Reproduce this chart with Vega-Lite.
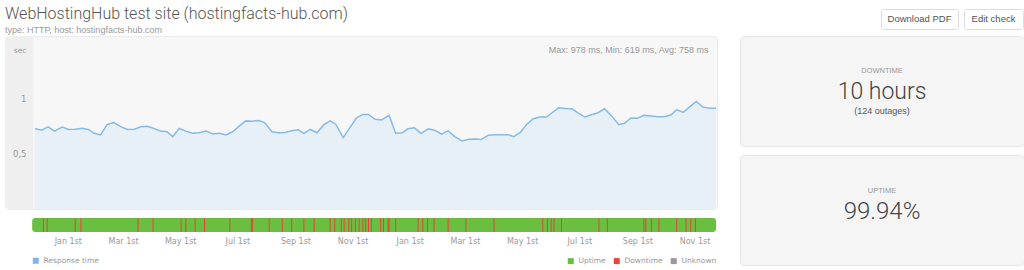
{
  "$schema": "https://vega.github.io/schema/vega-lite/v6.json",
  "background": "white",
  "padding": {"left": 4, "top": 3, "right": 0, "bottom": 0},
  "autosize": {"type": "pad"},
  "config": {"view": {"stroke": null}, "font": "Liberation Sans"},
  "datasets": {
    "response": [
      {"date":"2016-11-27","value":0.732},{"date":"2016-12-04","value":0.717},{"date":"2016-12-11","value":0.747},{"date":"2016-12-18","value":0.708},{"date":"2016-12-26","value":0.744},{"date":"2017-01-02","value":0.723},{"date":"2017-01-09","value":0.726},{"date":"2017-01-16","value":0.735},{"date":"2017-01-23","value":0.723},{"date":"2017-01-29","value":0.688},{"date":"2017-02-05","value":0.673},{"date":"2017-02-12","value":0.768},{"date":"2017-02-19","value":0.786},{"date":"2017-02-27","value":0.747},{"date":"2017-03-06","value":0.723},{"date":"2017-03-13","value":0.726},{"date":"2017-03-20","value":0.747},{"date":"2017-03-27","value":0.753},{"date":"2017-04-03","value":0.732},{"date":"2017-04-10","value":0.708},{"date":"2017-04-17","value":0.702},{"date":"2017-04-23","value":0.658},{"date":"2017-04-30","value":0.732},{"date":"2017-05-07","value":0.708},{"date":"2017-05-14","value":0.688},{"date":"2017-05-21","value":0.693},{"date":"2017-05-29","value":0.708},{"date":"2017-06-05","value":0.681},{"date":"2017-06-12","value":0.688},{"date":"2017-06-19","value":0.673},{"date":"2017-06-26","value":0.702},{"date":"2017-07-03","value":0.753},{"date":"2017-07-10","value":0.801},{"date":"2017-07-17","value":0.798},{"date":"2017-07-24","value":0.804},{"date":"2017-07-30","value":0.786},{"date":"2017-08-07","value":0.702},{"date":"2017-08-14","value":0.693},{"date":"2017-08-21","value":0.696},{"date":"2017-08-28","value":0.711},{"date":"2017-09-04","value":0.720},{"date":"2017-09-10","value":0.688},{"date":"2017-09-17","value":0.723},{"date":"2017-09-24","value":0.693},{"date":"2017-10-01","value":0.762},{"date":"2017-10-08","value":0.801},{"date":"2017-10-14","value":0.771},{"date":"2017-10-22","value":0.649},{"date":"2017-10-29","value":0.738},{"date":"2017-11-05","value":0.827},{"date":"2017-11-12","value":0.860},{"date":"2017-11-18","value":0.860},{"date":"2017-11-25","value":0.815},{"date":"2017-12-02","value":0.810},{"date":"2017-12-10","value":0.851},{"date":"2017-12-17","value":0.688},{"date":"2017-12-24","value":0.693},{"date":"2017-12-30","value":0.729},{"date":"2018-01-06","value":0.738},{"date":"2018-01-13","value":0.688},{"date":"2018-01-21","value":0.729},{"date":"2018-01-28","value":0.714},{"date":"2018-02-04","value":0.681},{"date":"2018-02-11","value":0.711},{"date":"2018-02-18","value":0.658},{"date":"2018-02-26","value":0.619},{"date":"2018-03-05","value":0.634},{"date":"2018-03-12","value":0.637},{"date":"2018-03-18","value":0.631},{"date":"2018-03-26","value":0.670},{"date":"2018-04-02","value":0.676},{"date":"2018-04-09","value":0.676},{"date":"2018-04-16","value":0.676},{"date":"2018-04-22","value":0.658},{"date":"2018-04-29","value":0.696},{"date":"2018-05-06","value":0.771},{"date":"2018-05-13","value":0.821},{"date":"2018-05-20","value":0.836},{"date":"2018-05-27","value":0.836},{"date":"2018-06-02","value":0.875},{"date":"2018-06-09","value":0.920},{"date":"2018-06-16","value":0.914},{"date":"2018-06-23","value":0.911},{"date":"2018-06-30","value":0.872},{"date":"2018-07-07","value":0.836},{"date":"2018-07-14","value":0.857},{"date":"2018-07-21","value":0.875},{"date":"2018-07-28","value":0.911},{"date":"2018-08-05","value":0.842},{"date":"2018-08-12","value":0.768},{"date":"2018-08-18","value":0.777},{"date":"2018-08-25","value":0.827},{"date":"2018-09-01","value":0.824},{"date":"2018-09-08","value":0.851},{"date":"2018-09-16","value":0.845},{"date":"2018-09-23","value":0.839},{"date":"2018-09-30","value":0.839},{"date":"2018-10-07","value":0.857},{"date":"2018-10-13","value":0.904},{"date":"2018-10-20","value":0.878},{"date":"2018-10-27","value":0.931},{"date":"2018-11-03","value":0.978},{"date":"2018-11-10","value":0.926},{"date":"2018-11-18","value":0.917},{"date":"2018-11-24","value":0.917}
    ],
    "downtime": [
      {"date":"2016-12-06","status":"Downtime"},{"date":"2016-12-10","status":"Downtime"},{"date":"2017-01-09","status":"Downtime"},{"date":"2017-01-15","status":"Downtime"},{"date":"2017-03-17","status":"Downtime"},{"date":"2017-04-02","status":"Downtime"},{"date":"2017-05-02","status":"Downtime"},{"date":"2017-05-07","status":"Downtime"},{"date":"2017-05-17","status":"Downtime"},{"date":"2017-05-27","status":"Downtime"},{"date":"2017-06-23","status":"Downtime"},{"date":"2017-07-16","status":"Downtime"},{"date":"2017-07-17","status":"Downtime"},{"date":"2017-08-04","status":"Downtime"},{"date":"2017-08-18","status":"Downtime"},{"date":"2017-08-28","status":"Downtime"},{"date":"2017-09-10","status":"Downtime"},{"date":"2017-09-21","status":"Downtime"},{"date":"2017-10-08","status":"Downtime"},{"date":"2017-10-13","status":"Downtime"},{"date":"2017-10-20","status":"Downtime"},{"date":"2017-10-23","status":"Downtime"},{"date":"2017-10-28","status":"Downtime"},{"date":"2017-10-31","status":"Downtime"},{"date":"2017-11-04","status":"Downtime"},{"date":"2017-11-08","status":"Downtime"},{"date":"2017-11-12","status":"Downtime"},{"date":"2017-11-15","status":"Downtime"},{"date":"2017-11-18","status":"Downtime"},{"date":"2017-11-21","status":"Downtime"},{"date":"2017-12-01","status":"Downtime"},{"date":"2017-12-04","status":"Downtime"},{"date":"2017-12-09","status":"Downtime"},{"date":"2017-12-10","status":"Downtime"},{"date":"2017-12-17","status":"Downtime"},{"date":"2018-01-10","status":"Downtime"},{"date":"2018-01-15","status":"Downtime"},{"date":"2018-01-20","status":"Downtime"},{"date":"2018-01-27","status":"Downtime"},{"date":"2018-02-11","status":"Downtime"},{"date":"2018-03-02","status":"Downtime"},{"date":"2018-04-01","status":"Downtime"},{"date":"2018-05-23","status":"Downtime"},{"date":"2018-05-28","status":"Downtime"},{"date":"2018-06-01","status":"Downtime"},{"date":"2018-06-04","status":"Downtime"},{"date":"2018-06-12","status":"Downtime"},{"date":"2018-07-22","status":"Downtime"},{"date":"2018-07-31","status":"Downtime"},{"date":"2018-09-08","status":"Downtime"},{"date":"2018-09-10","status":"Downtime"},{"date":"2018-09-16","status":"Downtime"},{"date":"2018-09-24","status":"Downtime"},{"date":"2018-10-13","status":"Downtime"},{"date":"2018-10-23","status":"Downtime"},{"date":"2018-10-28","status":"Downtime"},{"date":"2018-11-02","status":"Downtime"}
    ],
    "uptime": [{"start":"2016-11-24","end":"2018-11-24","status":"Uptime"}],
    "gutter": [{"start":"2016-10-26","end":"2016-11-25"}],
    "stats": [{"label":"Max: 978 ms, Min: 619 ms, Avg: 758 ms"}]
  },
  "spacing": 0,
  "vconcat": [
    {
      "spacing": 4,
      "hconcat": [
        {
          "width": 712, "height": 1,
          "title": {
            "text": "WebHostingHub test site (hostingfacts-hub.com)",
            "subtitle": "type: HTTP, host: hostingfacts-hub.com",
            "orient": "bottom", "anchor": "start", "frame": "group",
            "font": "Roboto", "fontSize": 16, "fontWeight": 300, "color": "#555555",
            "subtitleFont": "Liberation Sans", "subtitleFontSize": 9, "subtitleColor": "#999999",
            "subtitlePadding": 4, "offset": -9
          },
          "data": {"values": [{"label": ""}]},
          "mark": {"type": "text"},
          "encoding": {"text": {"field": "label"}}
        },
        {"width": 155, "height": 20, "data": {"values": [{"label": ""}]}, "mark": {"type": "text"}, "encoding": {"text": {"field": "label"}}},
        {"width": 77, "height": 20, "view": {"fill": "white", "stroke": "#dddddd", "cornerRadius": 2},
          "data": {"values": [{"label": "Download PDF"}]},
          "mark": {"type": "text", "fontSize": 9.5, "color": "#555555", "align": "center", "baseline": "middle"},
          "encoding": {"text": {"field": "label"}}},
        {"width": 59, "height": 20, "view": {"fill": "white", "stroke": "#dddddd", "cornerRadius": 2},
          "data": {"values": [{"label": "Edit check"}]},
          "mark": {"type": "text", "fontSize": 9.5, "color": "#555555", "align": "center", "baseline": "middle"},
          "encoding": {"text": {"field": "label"}}}
      ]
    },
    {
      "spacing": 19,
      "hconcat": [
        {
          "spacing": 7,
          "vconcat": [
            {
              "width": 712, "height": 173,
              "view": {"fill": "#f7f7f7", "stroke": "#ebebeb", "cornerRadius": 4},
              "layer": [
                {
                  "data": {"name": "gutter"},
                  "mark": {"type": "rect", "color": "#efefef", "cornerRadiusTopLeft": 4, "cornerRadiusBottomLeft": 4},
                  "encoding": {
                    "x": {"field": "start", "type": "temporal", "axis": null,
                      "scale": {"type": "utc", "nice": false, "domain": [{"year": 2016, "month": "oct", "date": 26, "utc": true}, {"year": 2018, "month": "nov", "date": 25, "utc": true}]}},
                    "x2": {"field": "end"}
                  }
                },
                {
                  "data": {"name": "response"},
                  "mark": {"type": "area", "color": "#e1ecf7", "line": {"color": "#85bbe8", "strokeWidth": 1.5}},
                  "encoding": {
                    "x": {"field": "date", "type": "temporal", "axis": null,
                      "scale": {"type": "utc", "nice": false, "domain": [{"year": 2016, "month": "oct", "date": 26, "utc": true}, {"year": 2018, "month": "nov", "date": 25, "utc": true}]}},
                    "y": {"field": "value", "type": "quantitative",
                      "scale": {"domain": [0, 1.5727], "nice": false, "zero": true},
                      "axis": {"orient": "left", "offset": -29, "zindex": 1, "values": [0.5, 1],
                        "labelExpr": "replace(format(datum.value, '~g'), '.', ',')",
                        "domain": false, "ticks": false, "grid": false, "labelPadding": 8,
                        "labelFont": "DejaVu Sans", "labelFontSize": 8.5, "labelColor": "#999999",
                        "title": "sec", "titleAngle": 0, "titleAlign": "right", "titleBaseline": "middle",
                        "titleX": -8, "titleY": 14, "titleFont": "DejaVu Sans", "titleFontSize": 7.5,
                        "titleFontWeight": "normal", "titleColor": "#999999"}}
                  }
                },
                {
                  "data": {"name": "stats"},
                  "mark": {"type": "text", "align": "right", "baseline": "middle", "fontSize": 9, "color": "#999999", "font": "Liberation Sans"},
                  "encoding": {
                    "x": {"datum": {"year": 2018, "month": "nov", "date": 16, "utc": true}, "type": "temporal"},
                    "y": {"datum": 1.448, "type": "quantitative"},
                    "text": {"field": "label"}
                  }
                }
              ]
            },
            {
              "width": 712, "height": 14,
              "layer": [
                {
                  "data": {"name": "uptime"},
                  "mark": {"type": "rect", "cornerRadius": 3},
                  "encoding": {
                    "x": {"field": "start", "type": "temporal",
                      "scale": {"type": "utc", "nice": false, "domain": [{"year": 2016, "month": "oct", "date": 26, "utc": true}, {"year": 2018, "month": "nov", "date": 25, "utc": true}]},
                      "axis": {"orient": "bottom", "title": null, "domain": false, "ticks": false, "grid": false,
                        "labelPadding": 5, "labelFont": "DejaVu Sans", "labelFontSize": 8, "labelColor": "#999999",
                        "labelExpr": "utcFormat(datum.value, '%b') + ' 1st'",
                        "values": [
                          {"year": 2017, "month": "jan", "date": 1, "utc": true},
                          {"year": 2017, "month": "mar", "date": 1, "utc": true},
                          {"year": 2017, "month": "may", "date": 1, "utc": true},
                          {"year": 2017, "month": "jul", "date": 1, "utc": true},
                          {"year": 2017, "month": "sep", "date": 1, "utc": true},
                          {"year": 2017, "month": "nov", "date": 1, "utc": true},
                          {"year": 2018, "month": "jan", "date": 1, "utc": true},
                          {"year": 2018, "month": "mar", "date": 1, "utc": true},
                          {"year": 2018, "month": "may", "date": 1, "utc": true},
                          {"year": 2018, "month": "jul", "date": 1, "utc": true},
                          {"year": 2018, "month": "sep", "date": 1, "utc": true},
                          {"year": 2018, "month": "nov", "date": 1, "utc": true}
                        ]}},
                    "x2": {"field": "end"},
                    "color": {"field": "status", "type": "nominal",
                      "scale": {"domain": ["Uptime", "Downtime", "Unknown"], "range": ["#6abf40", "#e8423a", "#999999"]},
                      "legend": {"orient": "none", "direction": "horizontal", "legendX": 562, "legendY": 248,
                        "title": null, "padding": 0, "symbolType": "square", "symbolSize": 36, "symbolStrokeWidth": 0,
                        "labelFont": "DejaVu Sans", "labelFontSize": 7.5, "labelColor": "#999999", "labelOffset": 4, "columnPadding": 7}}
                  }
                },
                {
                  "data": {"name": "downtime"},
                  "mark": {"type": "rule", "strokeWidth": 1},
                  "encoding": {
                    "x": {"field": "date", "type": "temporal"},
                    "color": {"field": "status", "type": "nominal"}
                  }
                },
                {
                  "data": {"name": "response"},
                  "mark": {"type": "point", "filled": true, "opacity": 0},
                  "encoding": {
                    "x": {"field": "date", "type": "temporal"},
                    "fill": {"datum": "Response time", "type": "nominal", "scale": {"range": ["#7cb5ec"]},
                      "legend": {"orient": "none", "legendX": 27, "legendY": 248, "title": null, "padding": 0,
                        "symbolType": "square", "symbolSize": 36, "symbolOpacity": 1, "symbolStrokeWidth": 0,
                        "labelFont": "DejaVu Sans", "labelFontSize": 7.5, "labelColor": "#999999", "labelOffset": 4}}
                  }
                }
              ]
            }
          ]
        },
        {
          "spacing": 7,
          "vconcat": [
            {
              "width": 284, "height": 110,
              "view": {"fill": "#f5f5f5", "stroke": "#e6e6e6", "cornerRadius": 4},
              "data": {"values": [{"title": "DOWNTIME", "value": "10 hours", "sub": "(124 outages)"}]},
              "layer": [
                {"mark": {"type": "text", "fontSize": 7.5, "color": "#999999", "dy": -20, "baseline": "middle"}, "encoding": {"text": {"field": "title"}}},
                {"mark": {"type": "text", "font": "Roboto", "fontWeight": 300, "fontSize": 23, "color": "#444444", "dy": 1, "baseline": "middle"}, "encoding": {"text": {"field": "value"}}},
                {"mark": {"type": "text", "fontSize": 9, "color": "#555555", "dy": 20, "baseline": "middle"}, "encoding": {"text": {"field": "sub"}}}
              ]
            },
            {
              "width": 284, "height": 110,
              "view": {"fill": "#f5f5f5", "stroke": "#e6e6e6", "cornerRadius": 4},
              "data": {"values": [{"title": "UPTIME", "value": "99.94%"}]},
              "layer": [
                {"mark": {"type": "text", "fontSize": 7.5, "color": "#999999", "dy": -19, "baseline": "middle"}, "encoding": {"text": {"field": "title"}}},
                {"mark": {"type": "text", "font": "Roboto", "fontWeight": 300, "fontSize": 24, "color": "#444444", "dy": 2, "baseline": "middle"}, "encoding": {"text": {"field": "value"}}}
              ]
            }
          ]
        }
      ]
    }
  ]
}
